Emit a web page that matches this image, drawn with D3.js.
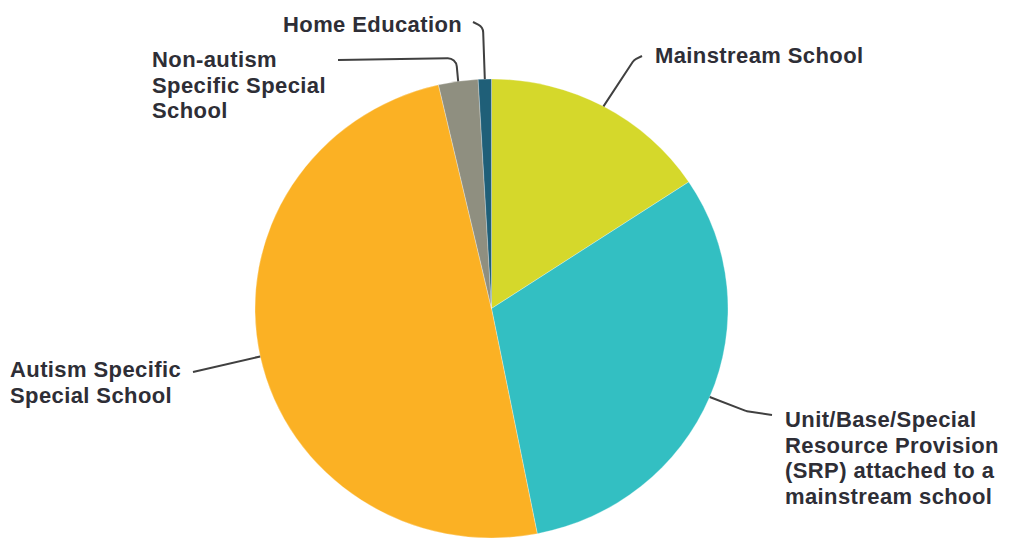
<!DOCTYPE html>
<html lang="en">
<head>
<meta charset="UTF-8">
<title>Placement pie</title>
<script src="https://d3js.org/d3.v7.min.js"></script>
<style>
  body { margin: 0; background: #fff; }
  text { font-family: "Liberation Sans"; font-weight: 700; font-size: 22px; letter-spacing: 0.4px; fill: #2e2e36; }
</style>
</head>
<body>
<svg id="chart" width="1010" height="538"></svg>
<script>
// clockwise from 12 o'clock
const categories = [
  "Mainstream School",
  "Unit/Base/Special Resource Provision (SRP) attached to a mainstream school",
  "Autism Specific Special School",
  "Non-autism Specific Special School",
  "Home Education"
];
const values = [15.7, 31.2, 49.5, 2.7, 0.9];
const colors = ["#d5d82b", "#33bfc2", "#fbb124", "#8f8f80", "#1f5f78"];

// label text broken into lines as in the picture
const labelLines = [
  ["Mainstream School"],
  ["Unit/Base/Special", "Resource Provision", "(SRP) attached to a", "mainstream school"],
  ["Autism Specific", "Special School"],
  ["Non-autism", "Specific Special", "School"],
  ["Home Education"]
];

const svg = d3.select("#chart");
const cx = 491.5, cy = 308.5, rx = 236.5, ry = 229.5;

const pie = d3.pie().sort(null).value(d => d.value);
const arcs = pie(categories.map((c, i) => ({ name: c, value: values[i], color: colors[i] })));
const arc = d3.arc().innerRadius(0).outerRadius(rx);

const g = svg.append("g")
  .attr("transform", `translate(${cx},${cy}) scale(1,${ry / rx})`);

g.selectAll("path")
  .data(arcs)
  .join("path")
  .attr("d", arc)
  .attr("fill", d => d.data.color)
  .attr("stroke", "#fff")
  .attr("stroke-width", 0.3);

// point on the pie edge at a slice's mid angle
function edgePoint(d) {
  const a = (d.startAngle + d.endAngle) / 2;
  return [cx + rx * Math.sin(a), cy - ry * Math.cos(a)];
}

// label anchor and leader bends, per slice
const layout = [
  { x: 655, y: 63, bends: [[634, 60]], end: [642, 56] },
  { x: 785, y: 427, bends: [[746, 411]], end: [772, 415] },
  { x: 10, y: 377, bends: [], end: [193, 372] },
  { x: 152, y: 67, bends: [[456, 58]], end: [338, 60] },
  { x: 283, y: 32, bends: [[483, 27]], end: [473, 22] }
];

arcs.forEach((d, i) => {
  const L = layout[i];
  const p0 = edgePoint(d);
  const p = d3.path();
  p.moveTo(p0[0], p0[1]);
  L.bends.forEach((b, j) => {
    const next = j + 1 < L.bends.length ? L.bends[j + 1] : L.end;
    p.arcTo(b[0], b[1], next[0], next[1], 9);
  });
  p.lineTo(L.end[0], L.end[1]);
  svg.append("path")
    .attr("d", p.toString())
    .attr("fill", "none")
    .attr("stroke", "#404040")
    .attr("stroke-width", 2);

  const t = svg.append("text").attr("x", L.x).attr("y", L.y);
  labelLines[i].forEach((line, k) => {
    t.append("tspan").attr("x", L.x).attr("y", L.y + k * 25.7).text(line);
  });
});
</script>
</body>
</html>
